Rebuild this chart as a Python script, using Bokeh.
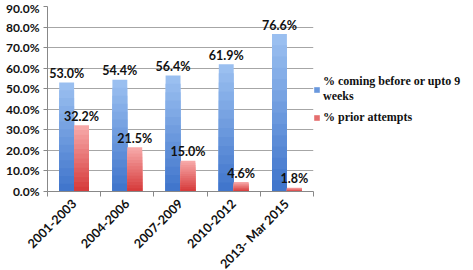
import numpy as np
from bokeh.plotting import figure
from bokeh.models import (Range1d, FixedTicker, PrintfTickFormatter, Legend, LegendItem)
from bokeh.core.properties import value
from bokeh.embed import file_html
from bokeh.resources import INLINE

categories = ["2001-2003", "2004-2006", "2007-2009", "2010-2012", "2013- Mar 2015"]
coming_early = [53.0, 54.4, 56.4, 61.9, 76.6]
prior_attempts = [32.2, 21.5, 15.0, 4.6, 1.8]
y_ticks = [0, 10, 20, 30, 40, 50, 60, 70, 80, 90]
series_names = ["% coming before or upto 9\nweeks", "% prior attempts"]

p = figure(frame_width=266, frame_height=185, output_backend="svg", toolbar_location=None,
           x_range=Range1d(0, len(categories)), y_range=Range1d(0, 90),
           min_border_left=47, min_border_right=0, min_border_top=6, min_border_bottom=79)
p.outline_line_color = None
p.background_fill_color = "white"
p.border_fill_color = "white"

centers = np.arange(len(categories)) + 0.5
bw = 0.28


def hexmix(c1, c2, t):
    a = [int(c1[i:i + 2], 16) for i in (1, 3, 5)]
    b = [int(c2[i:i + 2], 16) for i in (1, 3, 5)]
    return "#%02x%02x%02x" % tuple(int(round(a[j] + (b[j] - a[j]) * t)) for j in range(3))


N = 14
renderers = {}
for vals, xs, top_c, bot_c, key in [
    (coming_early, centers - bw / 2, "#9abff0", "#4176cc", 0),
    (prior_attempts, centers + bw / 2, "#f7a8a8", "#d63c3c", 1),
]:
    vals = np.array(vals)
    for k in range(N):
        frac = 1 - k / N
        col = hexmix(top_c, bot_c, k / (N - 1))
        r = p.vbar(x=xs, top=vals * frac, bottom=0, width=bw, fill_color=col, line_color=None)
        if k == N // 2:
            renderers[key] = r

# data labels
p.text(x=centers - bw / 2, y=coming_early, text=[f"{v:.1f}%" for v in coming_early],
       text_align="center", text_baseline="alphabetic", y_offset=-9,
       text_font=value("Lato"), text_font_style="bold", text_font_size="12.5px", text_color="#111111")
p.text(x=centers + bw / 2, y=prior_attempts, text=[f"{v:.1f}%" for v in prior_attempts],
       text_align="center", text_baseline="alphabetic", y_offset=-9,
       text_font=value("Lato"), text_font_style="bold", text_font_size="12.5px", text_color="#111111")

# axes
p.xaxis.ticker = FixedTicker(ticks=list(centers), minor_ticks=list(range(len(categories) + 1)))
p.xaxis.major_label_overrides = {float(c): cat for c, cat in zip(centers, categories)}
p.xaxis.major_label_orientation = np.pi / 4
p.xaxis.major_tick_line_color = None
p.xaxis.minor_tick_line_color = "#888888"
p.xaxis.minor_tick_out = 5
p.xaxis.minor_tick_in = 0
p.xaxis.axis_line_color = "#888888"
p.xaxis.major_label_standoff = 4
p.xaxis.major_label_text_font = "Lato"
p.xaxis.major_label_text_font_style = "bold"
p.xaxis.major_label_text_font_size = "12.5px"
p.xaxis.major_label_text_color = "#111111"

p.yaxis.ticker = FixedTicker(ticks=y_ticks, minor_ticks=[])
p.yaxis.formatter = PrintfTickFormatter(format="%.1f%%")
p.yaxis.axis_line_color = "#888888"
p.yaxis.major_tick_line_color = "#888888"
p.yaxis.major_tick_out = 4
p.yaxis.major_tick_in = 0
p.yaxis.minor_tick_line_color = None
p.yaxis.major_label_standoff = 4
p.yaxis.major_label_text_font = "Lato"
p.yaxis.major_label_text_font_style = "bold"
p.yaxis.major_label_text_font_size = "12px"
p.yaxis.major_label_text_color = "#111111"

p.xgrid.grid_line_color = None
p.ygrid.ticker = FixedTicker(ticks=y_ticks)
p.ygrid.grid_line_color = "#a6a6a6"
p.ygrid.grid_line_width = 1

legend = Legend(items=[LegendItem(label=series_names[0], renderers=[renderers[0]]),
                       LegendItem(label=series_names[1], renderers=[renderers[1]])],
                location=(0, 66), border_line_color=None, background_fill_alpha=0,
                glyph_width=7, glyph_height=7, label_standoff=3, spacing=6, padding=0,
                margin=6, label_height=14,
                label_text_font="Liberation Serif", label_text_font_style="bold",
                label_text_font_size="12px", label_text_color="#111111")
p.add_layout(legend, "right")

open("out.html", "w").write(file_html(p, INLINE))
